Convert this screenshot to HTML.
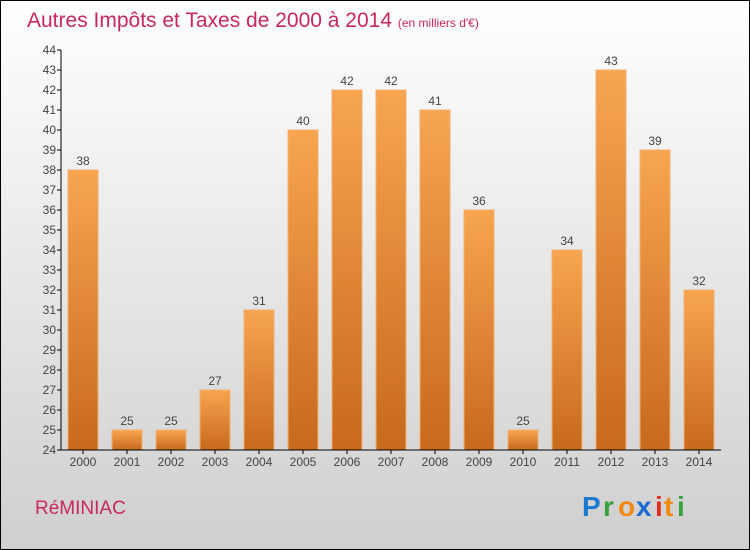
<!DOCTYPE html>
<html><head><meta charset="utf-8"><style>
body{margin:0}
#wrap{width:750px;height:550px;position:relative;box-sizing:border-box;border:1px solid #000;background:linear-gradient(#ffffff,#cfcfcf);font-family:"Liberation Sans",sans-serif;overflow:hidden}
</style></head><body>
<div id="wrap">
<svg id="chart" width="750" height="550" style="position:absolute;left:-1px;top:-1px">
<defs><linearGradient id="bg" x1="0" y1="0" x2="0" y2="1"><stop offset="0" stop-color="#f7a550"/><stop offset="1" stop-color="#c8691c"/></linearGradient></defs>
<text x="27" y="27" font-size="21" fill="#c8285a">Autres Impôts et Taxes de 2000 à 2014 <tspan font-size="12">(en milliers d'€)</tspan></text>
<text x="35" y="514" font-size="19" fill="#c8285a">RéMINIAC</text>
<g font-size="28" font-weight="bold">
<text x="582" y="516" fill="#1a7ad0">P</text><text x="603" y="516" fill="#3aa040">r</text><text x="618" y="516" fill="#f08a10">o</text><text x="636" y="516" fill="#1a6cd0">x</text><text x="655" y="516" fill="#e03020">i</text><text x="664" y="516" fill="#f08a10">t</text><text x="677" y="516" fill="#3aa040">i</text>
</g>
<g id="g"></g>
</svg></div>
<script>
const years=["2000","2001","2002","2003","2004","2005","2006","2007","2008","2009","2010","2011","2012","2013","2014"];
const values=[38,25,25,27,31,40,42,42,41,36,25,34,43,39,32];
const yTicks=[24,25,26,27,28,29,30,31,32,33,34,35,36,37,38,39,40,41,42,43,44];
const L=61,R=721,T=50,B=450,ymin=24,ymax=44;
const y=v=>B-(v-ymin)/(ymax-ymin)*(B-T);
const bw=(R-L)/years.length;
const x=i=>L+bw*i+bw/2;
const g=document.getElementById('g');const NS='http://www.w3.org/2000/svg';
function mk(t,a){const e=document.createElementNS(NS,t);for(const k in a)e.setAttribute(k,a[k]);g.appendChild(e);return e;}
values.forEach((v,i)=>{
 const r=mk('rect',{x:x(i)-15,y:y(v),width:30,height:B-y(v),fill:'url(#bg)',stroke:'#f2b070','stroke-width':1});
 
 
 const t=mk('text',{x:x(i),y:y(v)-5,'text-anchor':'middle','font-size':12,fill:'#444'});t.textContent=v;
 
 
 const xl=mk('text',{x:x(i),y:B+16,'text-anchor':'middle','font-size':12,fill:'#444'});xl.textContent=years[i];
 
 
 mk('line',{x1:x(i),x2:x(i),y1:B,y2:B+4,stroke:'#000'});
});
yTicks.forEach(v=>{
 mk('line',{x1:L-4,x2:L,y1:y(v),y2:y(v),stroke:'#000'});
 const t=mk('text',{x:L-5,y:y(v)+4,'text-anchor':'end','font-size':12,fill:'#444'});t.textContent=v;
 
 
});
const ya=mk('line',{x1:L,x2:L,y1:T,y2:B,stroke:'#000'});


const xa=mk('line',{x1:L,x2:R,y1:B,y2:B,stroke:'#000'});


</script></body></html>
